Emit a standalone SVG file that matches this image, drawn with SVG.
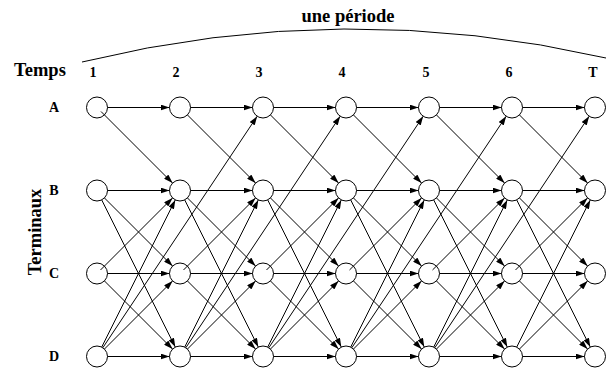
<svg xmlns="http://www.w3.org/2000/svg" width="606" height="369" viewBox="0 0 606 369">
<style>
.n{fill:none;stroke:#000;stroke-width:1}
.e{stroke:#000;stroke-width:1;fill:none;marker-end:url(#ah)}
.t{font-family:"Liberation Serif","Times New Roman",serif;font-weight:bold;fill:#000}
.big{font-size:18.5px}
.sm{font-size:14px;text-anchor:middle}
</style>
<defs>
<marker id="ah" markerUnits="userSpaceOnUse" markerWidth="9" markerHeight="6" refX="9" refY="3" orient="auto">
<path d="M0,0 L9,3 L0,6 z" fill="#000"/>
</marker>
</defs>
<rect width="606" height="369" fill="#fff"/>
<g id="labels">
<text class="t big" x="348" y="22" text-anchor="middle">une période</text>
<path d="M82,62 Q344,-2 606,58" fill="none" stroke="#000" stroke-width="1"/>
<text class="t big" x="40" y="76" text-anchor="middle">Temps</text>
<text class="t sm" x="93" y="77">1</text>
<text class="t sm" x="176" y="77">2</text>
<text class="t sm" x="259" y="77">3</text>
<text class="t sm" x="342" y="77">4</text>
<text class="t sm" x="426" y="77">5</text>
<text class="t sm" x="509" y="77">6</text>
<text class="t sm" x="593" y="77">T</text>
<text class="t sm" x="54" y="112">A</text>
<text class="t sm" x="54" y="195">B</text>
<text class="t sm" x="54" y="278">C</text>
<text class="t sm" x="54" y="361">D</text>
<text class="t big" transform="translate(41,232) rotate(-90)" text-anchor="middle">Terminaux</text>
</g>
<g id="connectors">
<!-- horizontal holds -->
<line class="e" x1="107.5" y1="107.5" x2="169.5" y2="107.5"/>
<line class="e" x1="190.5" y1="107.5" x2="252.5" y2="107.5"/>
<line class="e" x1="273.5" y1="107.5" x2="335.5" y2="107.5"/>
<line class="e" x1="356.5" y1="107.5" x2="418.5" y2="107.5"/>
<line class="e" x1="439.5" y1="107.5" x2="501.5" y2="107.5"/>
<line class="e" x1="522.5" y1="107.5" x2="584.5" y2="107.5"/>
<line class="e" x1="107.5" y1="190.5" x2="169.5" y2="190.5"/>
<line class="e" x1="190.5" y1="190.5" x2="252.5" y2="190.5"/>
<line class="e" x1="273.5" y1="190.5" x2="335.5" y2="190.5"/>
<line class="e" x1="356.5" y1="190.5" x2="418.5" y2="190.5"/>
<line class="e" x1="439.5" y1="190.5" x2="501.5" y2="190.5"/>
<line class="e" x1="522.5" y1="190.5" x2="584.5" y2="190.5"/>
<line class="e" x1="107.5" y1="273.5" x2="169.5" y2="273.5"/>
<line class="e" x1="190.5" y1="273.5" x2="252.5" y2="273.5"/>
<line class="e" x1="273.5" y1="273.5" x2="335.5" y2="273.5"/>
<line class="e" x1="356.5" y1="273.5" x2="418.5" y2="273.5"/>
<line class="e" x1="439.5" y1="273.5" x2="501.5" y2="273.5"/>
<line class="e" x1="522.5" y1="273.5" x2="584.5" y2="273.5"/>
<line class="e" x1="107.5" y1="356.5" x2="169.5" y2="356.5"/>
<line class="e" x1="190.5" y1="356.5" x2="252.5" y2="356.5"/>
<line class="e" x1="273.5" y1="356.5" x2="335.5" y2="356.5"/>
<line class="e" x1="356.5" y1="356.5" x2="418.5" y2="356.5"/>
<line class="e" x1="439.5" y1="356.5" x2="501.5" y2="356.5"/>
<line class="e" x1="522.5" y1="356.5" x2="584.5" y2="356.5"/>
<!-- A->B -->
<line class="e" x1="101" y1="111.5" x2="172.58" y2="183.08"/>
<line class="e" x1="187.42" y1="114.92" x2="255.58" y2="183.08"/>
<line class="e" x1="270.42" y1="114.92" x2="338.58" y2="183.08"/>
<line class="e" x1="353.42" y1="114.92" x2="421.58" y2="183.08"/>
<line class="e" x1="436.42" y1="114.92" x2="504.58" y2="183.08"/>
<line class="e" x1="519.42" y1="114.92" x2="587.58" y2="183.08"/>
<!-- B->C -->
<line class="e" x1="104.42" y1="197.92" x2="172.58" y2="266.08"/>
<line class="e" x1="187.42" y1="197.92" x2="255.58" y2="266.08"/>
<line class="e" x1="270.42" y1="197.92" x2="338.58" y2="266.08"/>
<line class="e" x1="353.42" y1="197.92" x2="421.58" y2="266.08"/>
<line class="e" x1="436.42" y1="197.92" x2="504.58" y2="266.08"/>
<line class="e" x1="519.42" y1="197.92" x2="587.58" y2="266.08"/>
<!-- C->D -->
<line class="e" x1="104.42" y1="280.92" x2="172.58" y2="349.08"/>
<line class="e" x1="187.42" y1="280.92" x2="255.58" y2="349.08"/>
<line class="e" x1="270.42" y1="280.92" x2="338.58" y2="349.08"/>
<line class="e" x1="353.42" y1="280.92" x2="421.58" y2="349.08"/>
<line class="e" x1="436.42" y1="280.92" x2="504.58" y2="349.08"/>
<line class="e" x1="519.42" y1="280.92" x2="587.58" y2="349.08"/>
<!-- C->B -->
<line class="e" x1="100.54" y1="269.96" x2="172.58" y2="197.92"/>
<line class="e" x1="183.54" y1="269.96" x2="255.58" y2="197.92"/>
<line class="e" x1="266.54" y1="269.96" x2="338.58" y2="197.92"/>
<line class="e" x1="349.54" y1="269.96" x2="421.58" y2="197.92"/>
<line class="e" x1="432.54" y1="269.96" x2="504.58" y2="197.92"/>
<line class="e" x1="515.54" y1="269.96" x2="587.58" y2="197.92"/>
<!-- D->C -->
<line class="e" x1="104.42" y1="349.08" x2="172.58" y2="280.92"/>
<line class="e" x1="187.42" y1="349.08" x2="255.58" y2="280.92"/>
<line class="e" x1="270.42" y1="349.08" x2="338.58" y2="280.92"/>
<line class="e" x1="353.42" y1="349.08" x2="421.58" y2="280.92"/>
<line class="e" x1="436.42" y1="349.08" x2="504.58" y2="280.92"/>
<line class="e" x1="519.42" y1="349.08" x2="587.58" y2="280.92"/>
<!-- B->D -->
<line class="e" x1="101.7" y1="199.89" x2="175.3" y2="347.11"/>
<line class="e" x1="184.7" y1="199.89" x2="258.3" y2="347.11"/>
<line class="e" x1="267.7" y1="199.89" x2="341.3" y2="347.11"/>
<line class="e" x1="350.7" y1="199.89" x2="424.3" y2="347.11"/>
<line class="e" x1="433.7" y1="199.89" x2="507.3" y2="347.11"/>
<line class="e" x1="516.7" y1="199.89" x2="590.3" y2="347.11"/>
<!-- D->B -->
<line class="e" x1="101.7" y1="347.11" x2="175.3" y2="199.89"/>
<line class="e" x1="184.7" y1="347.11" x2="258.3" y2="199.89"/>
<line class="e" x1="267.7" y1="347.11" x2="341.3" y2="199.89"/>
<line class="e" x1="350.7" y1="347.11" x2="424.3" y2="199.89"/>
<line class="e" x1="433.7" y1="347.11" x2="507.3" y2="199.89"/>
<line class="e" x1="516.7" y1="347.11" x2="590.3" y2="199.89"/>
<!-- D->A (two periods) -->
<line class="e" x1="102.82" y1="347.76" x2="257.18" y2="116.24"/>
<line class="e" x1="185.82" y1="347.76" x2="340.18" y2="116.24"/>
<line class="e" x1="268.82" y1="347.76" x2="423.18" y2="116.24"/>
<line class="e" x1="351.82" y1="347.76" x2="506.18" y2="116.24"/>
<line class="e" x1="434.82" y1="347.76" x2="589.18" y2="116.24"/>
</g>
<g id="nodes">
<circle id="A1" class="n" cx="97" cy="107.5" r="10.5"/>
<circle id="B1" class="n" cx="97" cy="190.5" r="10.5"/>
<circle id="C1" class="n" cx="97" cy="273.5" r="10.5"/>
<circle id="D1" class="n" cx="97" cy="356.5" r="10.5"/>
<circle id="A2" class="n" cx="180" cy="107.5" r="10.5"/>
<circle id="B2" class="n" cx="180" cy="190.5" r="10.5"/>
<circle id="C2" class="n" cx="180" cy="273.5" r="10.5"/>
<circle id="D2" class="n" cx="180" cy="356.5" r="10.5"/>
<circle id="A3" class="n" cx="263" cy="107.5" r="10.5"/>
<circle id="B3" class="n" cx="263" cy="190.5" r="10.5"/>
<circle id="C3" class="n" cx="263" cy="273.5" r="10.5"/>
<circle id="D3" class="n" cx="263" cy="356.5" r="10.5"/>
<circle id="A4" class="n" cx="346" cy="107.5" r="10.5"/>
<circle id="B4" class="n" cx="346" cy="190.5" r="10.5"/>
<circle id="C4" class="n" cx="346" cy="273.5" r="10.5"/>
<circle id="D4" class="n" cx="346" cy="356.5" r="10.5"/>
<circle id="A5" class="n" cx="429" cy="107.5" r="10.5"/>
<circle id="B5" class="n" cx="429" cy="190.5" r="10.5"/>
<circle id="C5" class="n" cx="429" cy="273.5" r="10.5"/>
<circle id="D5" class="n" cx="429" cy="356.5" r="10.5"/>
<circle id="A6" class="n" cx="512" cy="107.5" r="10.5"/>
<circle id="B6" class="n" cx="512" cy="190.5" r="10.5"/>
<circle id="C6" class="n" cx="512" cy="273.5" r="10.5"/>
<circle id="D6" class="n" cx="512" cy="356.5" r="10.5"/>
<circle id="AT" class="n" cx="595" cy="107.5" r="10.5"/>
<circle id="BT" class="n" cx="595" cy="190.5" r="10.5"/>
<circle id="CT" class="n" cx="595" cy="273.5" r="10.5"/>
<circle id="DT" class="n" cx="595" cy="356.5" r="10.5"/>
</g>
</svg>
